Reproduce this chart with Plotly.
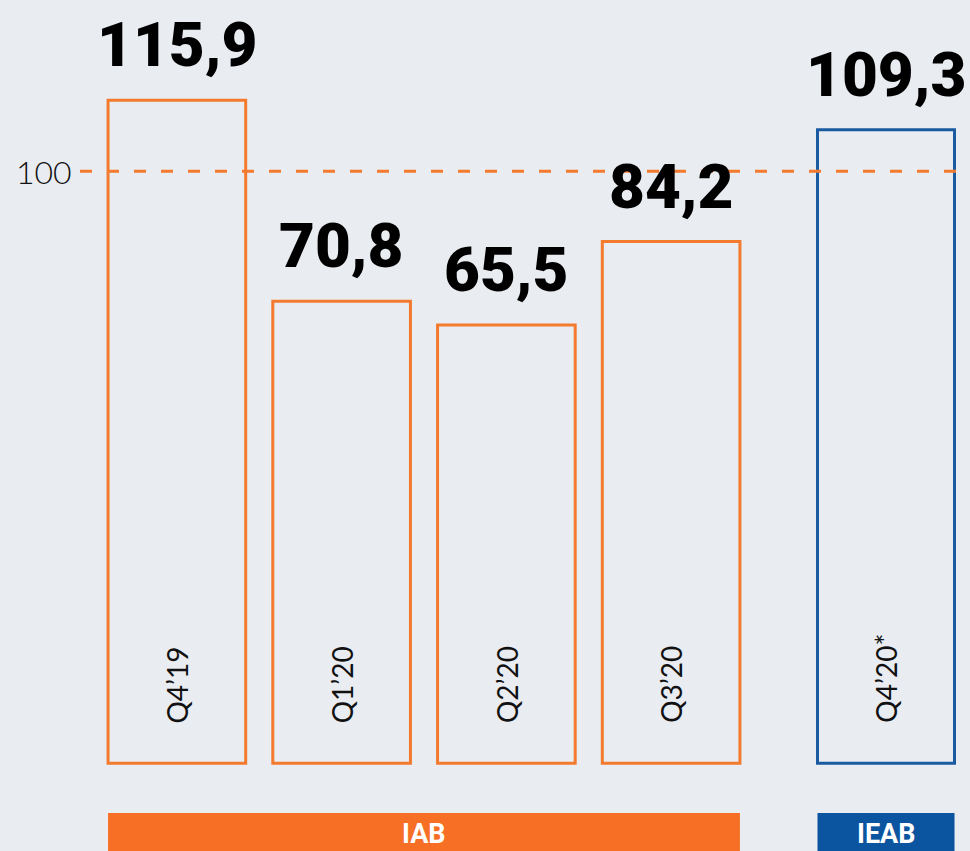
import plotly.graph_objects as go

# ---- data ----
iab_categories = ["Q4’19", "Q1’20", "Q2’20", "Q3’20"]
iab_values = [115.9, 70.8, 65.5, 84.2]
ieab_categories = ["Q4’20*"]
ieab_values = [109.3]
reference_level = 100
group_labels = ["IAB", "IEAB"]

# ---- styles ----
BG = "#E9ECF1"
ORANGE = "#F47A2E"
ORANGE_BAND = "#F76F25"
BLUE = "#1A5AA0"
BLUE_BAND = "#0B55A0"
BAR_BASE = -32.8
BARGAP = 27 / 164
BAND_TOP = -44
Y_RANGE = [-52.5, 138.4]

VALUE_FONT = dict(family="Roboto", size=62, color="#000000", weight=900)
CAT_FONT = dict(family="Lato", size=28, color="#111111", weight=400)
REF_FONT = dict(family="Lato", size=32, color="#111111", weight=300)
BAND_FONT = dict(family="Roboto", size=27, color="#FFFFFF", weight=700)


def fmt(v):
    return f"{v:.1f}".replace(".", ",")


fig = go.Figure()

fig.add_trace(go.Bar(
    x=iab_categories, y=[v - BAR_BASE for v in iab_values], base=BAR_BASE,
    marker=dict(color="rgba(0,0,0,0)", line=dict(color=ORANGE, width=3)),
    xaxis="x", yaxis="y", showlegend=False, hoverinfo="skip",
))
fig.add_trace(go.Bar(
    x=ieab_categories, y=[v - BAR_BASE for v in ieab_values], base=BAR_BASE,
    marker=dict(color="rgba(0,0,0,0)", line=dict(color=BLUE, width=3)),
    xaxis="x2", yaxis="y", showlegend=False, hoverinfo="skip",
))

annotations = []
for xref, cats, vals in (("x", iab_categories, iab_values), ("x2", ieab_categories, ieab_values)):
    for c, v in zip(cats, vals):
        annotations.append(dict(
            x=c, y=v, xref=xref, yref="y", text=fmt(v), showarrow=False,
            xanchor="center", yanchor="bottom", yshift=17, font=VALUE_FONT,
        ))
        annotations.append(dict(
            x=c, y=BAR_BASE, xref=xref, yref="y", text=c, showarrow=False,
            xanchor="center", yanchor="bottom", yshift=38, textangle=-90, font=CAT_FONT,
        ))

# reference line label
annotations.append(dict(
    x=74 / 970, y=reference_level, xref="paper", yref="y", text=str(reference_level),
    showarrow=False, xanchor="right", yanchor="middle", font=REF_FONT,
))

half = 0.5 - BARGAP / 2
shapes = [
    dict(type="line", xref="paper", yref="y", x0=80 / 970, x1=1,
         y0=reference_level, y1=reference_level,
         line=dict(color=ORANGE, width=3, dash="12px,15px"), layer="above"),
    dict(type="rect", xref="x", yref="y", x0=-half, x1=len(iab_categories) - 1 + half,
         y0=BAND_TOP, y1=Y_RANGE[0] - 5, fillcolor=ORANGE_BAND, line=dict(width=0)),
    dict(type="rect", xref="x2", yref="y", x0=-half, x1=half,
         y0=BAND_TOP, y1=Y_RANGE[0] - 5, fillcolor=BLUE_BAND, line=dict(width=0)),
]
band_mid = (BAND_TOP + Y_RANGE[0]) / 2
annotations.append(dict(x=(len(iab_categories) - 1) / 2, y=band_mid, xref="x", yref="y",
                        text=group_labels[0], showarrow=False, font=BAND_FONT,
                        xanchor="center", yanchor="middle", yshift=-2))
annotations.append(dict(x=0, y=band_mid, xref="x2", yref="y",
                        text=group_labels[1], showarrow=False, font=BAND_FONT,
                        xanchor="center", yanchor="middle", yshift=-2))

axis_common = dict(type="category", showticklabels=False, showgrid=False,
                   zeroline=False, showline=False, ticks="")
fig.update_layout(
    width=970, height=851,
    margin=dict(l=0, r=0, t=0, b=0),
    paper_bgcolor=BG, plot_bgcolor=BG,
    bargap=BARGAP,
    hovermode=False,
    xaxis=dict(domain=[94.5 / 970, 753.5 / 970], range=[-0.5, len(iab_categories) - 0.5], **axis_common),
    xaxis2=dict(domain=[804 / 970, 968 / 970], range=[-0.5, 0.5], anchor="y", **axis_common),
    yaxis=dict(range=Y_RANGE, visible=False, showgrid=False, zeroline=False),
    shapes=shapes,
    annotations=annotations,
)

fig.write_html(
    "out.html",
    config={"displayModeBar": False, "staticPlot": True},
    post_script="document.body.style.margin='0';document.body.style.background='" + BG + "';",
)
